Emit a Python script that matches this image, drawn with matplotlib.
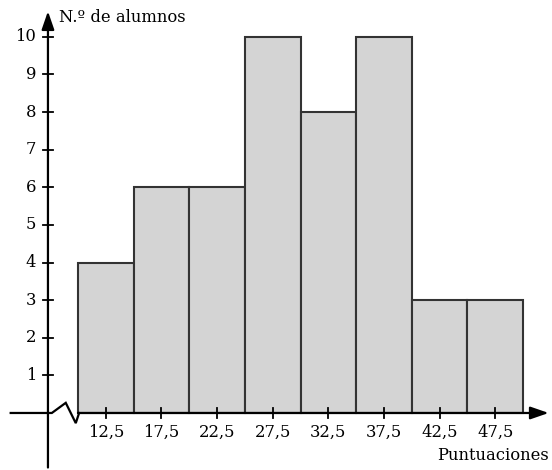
import matplotlib
matplotlib.use("Agg")
import matplotlib.pyplot as plt

# Score classes (class marks) and number of students in each
class_marks = [12.5, 17.5, 22.5, 27.5, 32.5, 37.5, 42.5, 47.5]
students = [4, 6, 6, 10, 8, 10, 3, 3]
y_ticks = list(range(1, 11))
x_tick_labels = ["12,5", "17,5", "22,5", "27,5", "32,5", "37,5", "42,5", "47,5"]
class_width = 5

plt.rcParams["font.family"] = ["DejaVu Serif"]
FS = 11.8

fig = plt.figure(figsize=(5.52, 4.70), dpi=100)
ax = fig.add_axes([0, 0, 1, 1])
ax.set_xlim(2.99, 52.6)
ax.set_ylim(-1.516, 10.98)
ax.axis("off")

# Histogram bars
ax.bar(class_marks, students, width=class_width, color="#d4d4d4",
       edgecolor="#333333", linewidth=1.5, zorder=2)

arrow_style = "-|>,head_length=0.55,head_width=0.19"

# Vertical axis with arrow at the top (placed left of the broken x scale)
y_axis_x = 7.3
ax.annotate("", xy=(y_axis_x, 10.98 - 0.3), xytext=(y_axis_x, -1.45),
            arrowprops=dict(arrowstyle=arrow_style, color="black", lw=1.6,
                            mutation_scale=20, shrinkA=0, shrinkB=0), zorder=3)

# Horizontal axis: left stub, zigzag break, then the scale with arrow
ax.plot([3.95, 7.65, 8.9, 9.8, 10.1], [0, 0, 0.27, -0.27, 0],
        color="black", lw=1.6, zorder=3, solid_joinstyle="miter")
ax.annotate("", xy=(52.3, 0), xytext=(10.0, 0),
            arrowprops=dict(arrowstyle=arrow_style, color="black", lw=1.6,
                            mutation_scale=20, shrinkA=0, shrinkB=0), zorder=3)

# Ticks on the y axis
for v in y_ticks:
    ax.plot([y_axis_x - 0.45, y_axis_x + 0.45], [v, v], color="black", lw=1.3, zorder=3)
    ax.text(y_axis_x - 1.05, v, str(v), ha="right", va="center", fontsize=FS)

# Ticks on the x axis
for m, lab in zip(class_marks, x_tick_labels):
    ax.plot([m, m], [-0.13, 0.13], color="black", lw=1.3, zorder=3)
    ax.text(m, -0.52, lab, ha="center", va="center", fontsize=FS)

# Axis titles
ax.text(y_axis_x + 1.0, 10.52, "N.º de alumnos", ha="left", va="center", fontsize=FS)
ax.text(52.3, -1.12, "Puntuaciones", ha="right", va="center", fontsize=FS)

fig.savefig("out.png", dpi=100)
